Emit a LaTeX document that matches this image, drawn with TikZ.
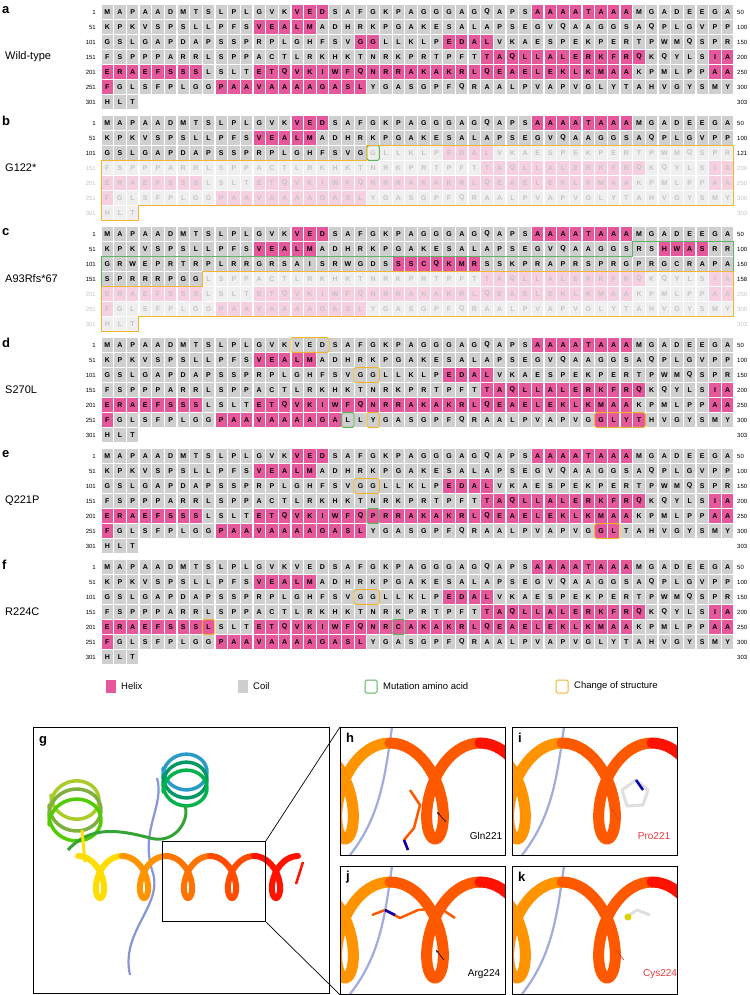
\documentclass[tikz,border=0pt]{standalone}
\usepackage{fontspec}
\setmainfont{Liberation Sans}
\usetikzlibrary{arrows.meta}
\definecolor{cg}{HTML}{CFCFCF}
\definecolor{cp}{HTML}{E5589B}
\definecolor{fg}{HTML}{EFEFEF}
\definecolor{fp}{HTML}{F6CFE1}
\definecolor{ft}{HTML}{C4C4C4}
\definecolor{gbox}{HTML}{5DB55D}
\definecolor{obox}{HTML}{F2B531}
\definecolor{coil}{HTML}{8797D6}
\definecolor{redlab}{HTML}{E8383D}
\def\Sa{MAPAADMTSLPLGVKVEDSAFGKPAGGGAGQAPSAAAATAAAMGADEEGA}
\def\Sb{KPKVSPSLLPFSVEALMADHRKPGAKESALAPSEGVQAAGGSAQPLGVPP}
\def\Sc{GSLGAPDAPSSPRPLGHFSVGGLLKLPEDALVKAESPEKPERTPWMQSPR}
\def\Sd{FSPPPARRLSPPACTLRKHKTNRKPRTPFTTAQLLALERKFRQKQYLSIA}
\def\Se{ERAEFSSSLSLTETQVKIWFQNRRAKAKRLQEAELEKLKMAAKPMLPPAA}
\def\Sf{FGLSFPLGGPAAVAAAAGASLYGASGPFQRAALPVAPVGLYTAHVGYSMY}
\def\Sg{HLT}
\def\xo{107.3}\def\cw{12.66}\def\hw{5.7}\def\hh{6.7}
\newcount\ci
\def\cells#1#2#3#4{\foreach \k in {#2,...,#3}{\fill[#4] ({\xo+(\k-1)*\cw-\hw},{#1-\hh}) rectangle ++(2*\hw,2*\hh);}}
\def\txt#1#2#3#4{\def\tcol{#4}\ci=\numexpr#2-1\relax\def\tmpy{#1}\expandafter\xputl#3\end}
\def\xputl#1{\ifx\end#1\let\mynext\relax\else\node[lt,text=\tcol] at ({\xo+\the\ci*\cw},{\tmpy}) {#1};\advance\ci by 1 \let\mynext\xputl\fi\mynext}
\def\cell#1#2#3#4{\cells{#1}{#2}{#2}{#3}\txt{#1}{#2}{#4}{black}}
\def\obx#1#2#3#4{\draw[#4,line width=1,rounded corners=1.5] ({\xo+(#2-1)*\cw-\hw-0.6},{#1-\hh-0.6}) rectangle ({\xo+(#3-1)*\cw+\hw+0.6},{#1+\hh+0.6});}
\def\nums#1#2#3#4{\node[num,anchor=east,text=#4] at (96,{#1}) {#2};\node[num,anchor=west,text=#4] at (737,{#1}) {#3};}
\def\wtA#1#2#3#4{\cells{#1}{1}{50}{#2}\cells{#1}{16}{18}{#3}\cells{#1}{35}{42}{#3}\txt{#1}{1}{\Sa}{#4}}
\def\wtB#1#2#3#4{\cells{#1}{1}{50}{#2}\cells{#1}{13}{17}{#3}\txt{#1}{1}{\Sb}{#4}}
\def\wtC#1#2#3#4{\cells{#1}{1}{50}{#2}\cells{#1}{21}{22}{#3}\cells{#1}{28}{31}{#3}\txt{#1}{1}{\Sc}{#4}}
\def\wtD#1#2#3#4{\cells{#1}{1}{50}{#2}\cells{#1}{31}{43}{#3}\cells{#1}{49}{50}{#3}\txt{#1}{1}{\Sd}{#4}}
\def\wtE#1#2#3#4{\cells{#1}{1}{50}{#2}\cells{#1}{1}{8}{#3}\cells{#1}{13}{42}{#3}\cells{#1}{49}{50}{#3}\txt{#1}{1}{\Se}{#4}}
\def\wtF#1#2#3#4{\cells{#1}{1}{50}{#2}\cells{#1}{1}{1}{#3}\cells{#1}{10}{21}{#3}\txt{#1}{1}{\Sf}{#4}}
\def\wtG#1#2#3#4{\cells{#1}{1}{3}{#2}\txt{#1}{1}{\Sg}{#4}}
\def\wtpanel#1{\wtA{#1}{cg}{cp}{black}\wtB{#1+15}{cg}{cp}{black}\wtC{#1+30}{cg}{cp}{black}%
\wtD{#1+45}{cg}{cp}{black}\wtE{#1+60}{cg}{cp}{black}\wtF{#1+75}{cg}{cp}{black}\wtG{#1+90}{cg}{cp}{black}%
\nums{#1}{1}{50}{black}\nums{#1+15}{51}{100}{black}\nums{#1+30}{101}{150}{black}\nums{#1+45}{151}{200}{black}%
\nums{#1+60}{201}{250}{black}\nums{#1+75}{251}{300}{black}\nums{#1+90}{301}{303}{black}}
\def\hturn#1#2#3#4#5#6{\draw[#5,line width=#6,line cap=round] plot[domain=0:360,samples=48] ({#1+#3*(\x/360)+0.3*#3*sin(\x)},{#2-#4*cos(\x)});}
\def\vturn#1#2#3#4#5{\draw[#5,line width=3.5,line cap=round] plot[domain=0:360,samples=48] ({#1-#4*cos(\x)},{#2+#3*(\x/360)+0.9*#4*sin(\x)});}
\tikzset{lt/.style={font=\fontsize{7}{7}\selectfont\bfseries,inner sep=0},
num/.style={font=\fontsize{6}{6}\selectfont,inner sep=0},
plab/.style={font=\fontsize{13}{13}\selectfont\bfseries,anchor=west,inner sep=0},
mlab/.style={font=\fontsize{11}{11}\selectfont,anchor=west,inner sep=0},
leg/.style={font=\fontsize{9.5}{10}\selectfont,anchor=west,inner sep=0},
slab/.style={font=\fontsize{10}{10}\selectfont,inner sep=0},
frame/.style={draw=black,line width=0.8},
arr/.style={-{Stealth[length=3pt]},line width=0.6}}
\def\smallpanel#1#2#3{%
 \begin{scope}
 \clip (#2,#3) rectangle ++(165,128);
 \draw[coil!80,line width=2.2] (#2+52,#3) .. controls (#2+45,#3+50) and (#2+40,#3+90) .. (#2+10,#3+128);
 \hturn{#2-40}{#3+64}{90}{48}{orange!85!yellow}{11}
 \hturn{#2+50}{#3+64}{90}{48}{orange!70!red}{11}
 \hturn{#2+140}{#3+64}{90}{48}{red!85!orange}{11}
 \end{scope}
 \node[frame,minimum width=165,minimum height=128,anchor=north west,inner sep=0] (p#1) at (#2,#3) {};
 \node[plab] (t#1) at (#2+6,#3+11) {#1};}
\begin{document}
\begin{tikzpicture}[x=1pt,y=-1pt]
\useasboundingbox (0,0) rectangle (749,995);
\fill[white] (0,0) rectangle (749,995);
% a
\node[plab] (la) at (2,10) {a};\node[mlab] (ma) at (5,57) {Wild-type};
\wtpanel{12}
% b
\node[plab] (lb) at (2,121) {b};\node[mlab] (mb) at (5,168) {G122*};
\wtA{123}{cg}{cp}{black}\wtB{138}{cg}{cp}{black}
\cells{153}{1}{21}{cg}\cells{153}{22}{50}{fg}\cells{153}{28}{31}{fp}
\txt{153}{1}{GSLGAPDAPSSPRPLGHFSVG}{black}\txt{153}{22}{GLLKLPEDALVKAESPEKPERTPWMQSPR}{ft}
\wtD{168}{fg}{fp}{ft}\wtE{183}{fg}{fp}{ft}\wtF{198}{fg}{fp}{ft}\wtG{213}{fg}{fp}{ft}
\nums{123}{1}{50}{black}\nums{138}{51}{100}{black}\nums{153}{101}{121}{black}
\nums{168}{151}{200}{ft}\nums{183}{201}{250}{ft}\nums{198}{251}{300}{ft}\nums{213}{301}{303}{ft}
\obx{153}{22}{22}{gbox}
\draw[obox,line width=1] ({\xo+21*\cw-\hw-0.6},145.7) -- ({\xo+49*\cw+\hw+0.6},145.7) -- ({\xo+49*\cw+\hw+0.6},205.3) -- ({\xo+2*\cw+\hw+0.6},205.3) -- ({\xo+2*\cw+\hw+0.6},220.3) -- ({\xo-\hw-0.6},220.3) -- ({\xo-\hw-0.6},160.7) -- ({\xo+21*\cw-\hw-0.6},160.7) -- cycle;
% c
\node[plab] (lc) at (2,232) {c};\node[mlab] (mc) at (5,279) {A93Rfs*67};
\wtA{234}{cg}{cp}{black}
\cells{249}{1}{50}{cg}\cells{249}{13}{17}{cp}\cells{249}{45}{48}{cp}
\txt{249}{1}{KPKVSPSLLPFSVEALMADHRKPGAKESALAPSEGVQAAGGSRSHWASRR}{black}
\cells{264}{1}{50}{cg}\cells{264}{24}{30}{cp}
\txt{264}{1}{GRWEPRTRPLRRGRSAISRWGDSSSCQKMRSSKPRAPRSPRGPRGCRAPA}{black}
\cells{279}{1}{8}{cg}\cells{279}{9}{50}{fg}\cells{279}{31}{43}{fp}\cells{279}{49}{50}{fp}
\txt{279}{1}{SPRRRPGG}{black}\txt{279}{9}{LSPPACTLRKHKTNRKPRTPFTTAQLLALERKFRQKQYLSIA}{ft}
\wtE{294}{fg}{fp}{ft}\wtF{309}{fg}{fp}{ft}\wtG{324}{fg}{fp}{ft}
\nums{234}{1}{50}{black}\nums{249}{51}{100}{black}\nums{264}{101}{150}{black}\nums{279}{151}{158}{black}
\nums{294}{201}{250}{ft}\nums{309}{251}{300}{ft}\nums{324}{301}{303}{ft}
\draw[gbox,line width=1] ({\xo+42*\cw-\hw-0.6},241.7) -- ({\xo+49*\cw+\hw+0.6},241.7) -- ({\xo+49*\cw+\hw+0.6},271.3) -- ({\xo+7*\cw+\hw+0.6},271.3) -- ({\xo+7*\cw+\hw+0.6},286.3) -- ({\xo-\hw-0.6},286.3) -- ({\xo-\hw-0.6},256.7) -- ({\xo+42*\cw-\hw-0.6},256.7) -- cycle;
\draw[obox,line width=1] ({\xo+8*\cw-\hw-0.6},271.9) -- ({\xo+49*\cw+\hw+0.6},271.9) -- ({\xo+49*\cw+\hw+0.6},316.3) -- ({\xo+2*\cw+\hw+0.6},316.3) -- ({\xo+2*\cw+\hw+0.6},331.3) -- ({\xo-\hw-0.6},331.3) -- ({\xo-\hw-0.6},286.9) -- ({\xo+8*\cw-\hw-0.6},286.9) -- cycle;
% d
\node[plab] (ld) at (2,343) {d};\node[mlab] (md) at (5,390) {S270L};
\wtpanel{345}
\cell{345}{16}{cg}{V}\cell{345}{17}{cg}{E}\cell{345}{18}{cg}{D}\obx{345}{16}{18}{obox}
\cell{375}{21}{cg}{G}\cell{375}{22}{cg}{G}\obx{375}{21}{22}{obox}
\cell{420}{20}{cg}{L}\cell{420}{21}{cg}{L}\cell{420}{22}{cg}{Y}\obx{420}{20}{20}{gbox}\obx{420}{22}{22}{obox}
\cell{420}{40}{cp}{G}\cell{420}{41}{cp}{L}\cell{420}{42}{cp}{Y}\cell{420}{43}{cp}{T}\obx{420}{40}{43}{obox}
% e
\node[plab] (le) at (2,454) {e};\node[mlab] (me) at (5,501) {Q221P};
\wtpanel{456}
\cell{486}{21}{cg}{G}\cell{486}{22}{cg}{G}\obx{486}{21}{22}{obox}
\cell{516}{22}{cp}{P}\obx{516}{22}{22}{gbox}
\cell{531}{40}{cp}{G}\cell{531}{41}{cp}{L}\obx{531}{40}{41}{obox}
% f
\node[plab] (lf) at (2,565) {f};\node[mlab] (mf) at (5,612) {R224C};
\wtpanel{567}
\cell{567}{16}{cg}{V}\cell{567}{17}{cg}{E}\cell{567}{18}{cg}{D}
\cell{597}{21}{cg}{G}\cell{597}{22}{cg}{G}\obx{597}{21}{22}{obox}
\cell{627}{9}{cp}{L}\obx{627}{9}{9}{obox}
\cell{627}{24}{cp}{C}\obx{627}{24}{24}{gbox}
% legend
\fill[cp] (106,680) rectangle (116,693);\node[leg] (lgh) at (121,686.5) {Helix};
\fill[cg] (238,680) rectangle (248,693);\node[leg] (lgc) at (253,686.5) {Coil};
\draw[gbox,line width=1,rounded corners=1.5] (365,680) rectangle (377,693);\node[leg] (lgm) at (383,686.5) {Mutation amino acid};
\draw[obox,line width=1,rounded corners=1.5] (556,680) rectangle (568,693);\node[leg] (lgo) at (574,686.5) {Change of structure};
% g panel
\draw[coil,line width=2.2] (130,975) .. controls (120,930) and (165,905) .. (152,870) .. controls (140,830) and (165,805) .. (157,778);
\vturn{75}{795}{10}{24}{yellow!70!green!90!black}
\vturn{75}{805}{10}{26}{yellow!50!green!80!black}
\vturn{75}{815}{10}{26}{green!60!yellow!80!black}
\vturn{185}{768}{8}{22}{cyan!60!teal}
\vturn{185}{776}{8}{22}{teal!80!green}
\vturn{185}{784}{8}{22}{teal!60!green}
\draw[green!55!black!80,line width=3] (68,850) .. controls (90,825) and (120,830) .. (150,838) .. controls (175,845) and (190,820) .. (185,806);
\draw[yellow!85!orange,line width=3] (82,830) -- (85,862);
\hturn{78}{877}{44}{21}{yellow!80!orange}{6}
\hturn{122}{877}{44}{21}{orange!85!yellow}{6}
\hturn{166}{877}{44}{21}{orange!90!red}{6}
\hturn{210}{877}{44}{21}{orange!60!red}{6}
\hturn{254}{877}{44}{21}{red!85!orange}{6}
\draw[red!85!orange,line width=2.5] (296,884) -- (303,862);
\node[frame,minimum width=296,minimum height=266,anchor=north west,inner sep=0] (g) at (33,727) {};
\node[plab] (lg) at (39,741) {g};
\node[draw=black,line width=0.8,minimum width=103,minimum height=80,anchor=north west,inner sep=0] (zb) at (162,841) {};
% small panels
\smallpanel{h}{340}{727}
\smallpanel{i}{512}{727}
\smallpanel{j}{340}{866}
\smallpanel{k}{512}{866}
\draw[line width=0.7] (zb.north east) -- (ph.north west);
\draw[line width=0.7] (zb.south east) -- (pj.south west);
% side chains
\draw[orange!70!red,line width=2.5,line join=round] (410,790) -- (420,805) -- (414,828) -- (404,840) -- (408,850);
\draw[blue!70!black,line width=2.5] (404,840) -- (408,850);
\draw[gray!25,line width=3,line join=round] (622,790) -- (636,780) -- (648,790) -- (643,805) -- (627,806) -- cycle;
\draw[blue!70!black,line width=2.5] (636,780) -- (643,790);
\draw[orange!70!red,line width=2.5,line join=round] (372,915) -- (385,910) -- (400,918) -- (418,910) -- (440,908) -- (455,918);
\draw[blue!70!black,line width=2.5] (385,910) -- (395,915);
\draw[gray!25,line width=3,line join=round] (625,918) -- (637,910) -- (650,915);
\fill[yellow!70!olive] (628,917) circle (3.5);
% labels
\node[slab] (tq) at (486,836) {Gln221};
\coordinate (q1) at (446,822); \coordinate (q2) at (437,812);
\draw[arr] (q1) -- (q2);
\node[slab,text=redlab] (tp) at (654,836) {Pro221};
\coordinate (p1) at (619,820); \coordinate (p2) at (612,809);
\draw[arr,redlab] (p1) -- (p2);
\node[slab] (tr) at (484,974) {Arg224};
\coordinate (r1) at (444,960); \coordinate (r2) at (436,950);
\draw[arr] (r1) -- (r2);
\node[slab,text=redlab] (tc) at (660,974) {Cys224};
\coordinate (c1) at (624,960); \coordinate (c2) at (616,950);
\draw[arr,redlab] (c1) -- (c2);
\end{tikzpicture}
\end{document}
